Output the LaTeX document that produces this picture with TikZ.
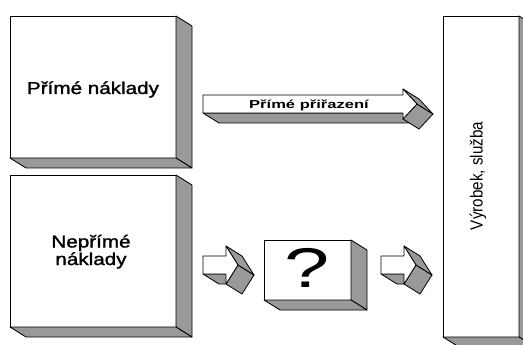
\documentclass[tikz,border=0pt]{standalone}
\usepackage{fontspec}
\setmainfont{Liberation Sans}
\newfontfamily\medfont[FakeBold=1.3]{Liberation Sans}
\usepackage{graphicx}
\definecolor{sidegray}{RGB}{153,153,153}
\tikzset{
  frontface/.style={draw=black, line width=0.8pt, fill=white, line join=round},
  sideface/.style={draw=black, line width=0.8pt, fill=sidegray, line join=round},
  boxface/.style={frontface, anchor=north west, inner sep=0pt, outer sep=0pt},
  labeltext/.style={inner sep=0pt, anchor=base},
}
% extruded sides of a box node, depth (16,10)
\newcommand\boxsides[1]{%
  \draw[sideface] (#1.north east) -- ([shift={(16,10)}]#1.north east)
     -- ([shift={(16,10)}]#1.south east) -- (#1.south east) -- cycle;
  \draw[sideface] (#1.south west) -- (#1.south east)
     -- ([shift={(16,10)}]#1.south east) -- ([shift={(16,10)}]#1.south west) -- cycle;
}
% 3D block arrow: #1 left x, #2 notch x, #3 centre y, #4 shaft half, #5 head half, #6 head length
\newcommand\blockarrow[6]{%
  \draw[sideface] (#1,#3+#4) -- (#2,#3+#4) -- (#2+16,#3+#4+10) -- (#1+16,#3+#4+10) -- cycle;
  \draw[sideface] (#2+#6,#3) -- (#2,#3+#5) -- (#2+16,#3+#5+10) -- (#2+#6+16,#3+10) -- cycle;
  \draw[sideface] (#2,#3-#5) -- (#2+#6,#3) -- (#2+#6+16,#3+10) -- (#2+16,#3-#5+10) -- cycle;
  \draw[frontface] (#1,#3-#4) -- (#2,#3-#4) -- (#2,#3-#5) -- (#2+#6,#3) -- (#2,#3+#5)
     -- (#2,#3+#4) -- (#1,#3+#4) -- cycle;
}
\begin{document}
\begin{tikzpicture}[x=1pt,y=-1pt]
\useasboundingbox (0,0) rectangle (523,345);
\clip (0,0) rectangle (523,345);

% boxes
\node[boxface, minimum width=166pt, minimum height=142pt] (direct) at (10,16) {};
\boxsides{direct}
\node[boxface, minimum width=166pt, minimum height=152pt] (indirect) at (10,175) {};
\boxsides{indirect}
\node[boxface, minimum width=76pt, minimum height=321pt] (product) at (443,16) {};
\boxsides{product}
\node[boxface, minimum width=87pt, minimum height=60pt] (unknown) at (264,240) {};
\boxsides{unknown}

% arrows
\blockarrow{203}{403}{104}{9}{15}{14}
\coordinate (bigarrow) at (309,109);
\blockarrow{203}{226}{265}{9}{19}{12}
\coordinate (smallarrowA) at (226,265);
\blockarrow{381}{404}{265}{9}{19}{12}
\coordinate (smallarrowB) at (404,265);

% texts
\node[labeltext] (tdirect) at (93,94)
  {\scalebox{1.2}[1]{\fontsize{17.2}{18}\medfont Přímé náklady}};
\node[labeltext] (tindirectA) at (91,247.5)
  {\scalebox{1.2}[1]{\fontsize{17.2}{18}\medfont Nepřímé}};
\node[labeltext] (tindirectB) at (91,265)
  {\scalebox{1.2}[1]{\fontsize{17.2}{18}\medfont náklady}};
\node[labeltext] (tassign) at (bigarrow)
  {\scalebox{1.44}[1]{\fontsize{11.5}{12}\selectfont\bfseries Přímé přiřazení}};
\node[labeltext] (tq) at (307,287)
  {\scalebox{1.45}[1]{\fontsize{56}{60}\selectfont ?}};
\node[inner sep=0pt] (tproduct) at (478,176)
  {\rotatebox{90}{\scalebox{1}[1.15]{\fontsize{15.2}{16}\selectfont Výrobek, služba}}};
\end{tikzpicture}
\end{document}
